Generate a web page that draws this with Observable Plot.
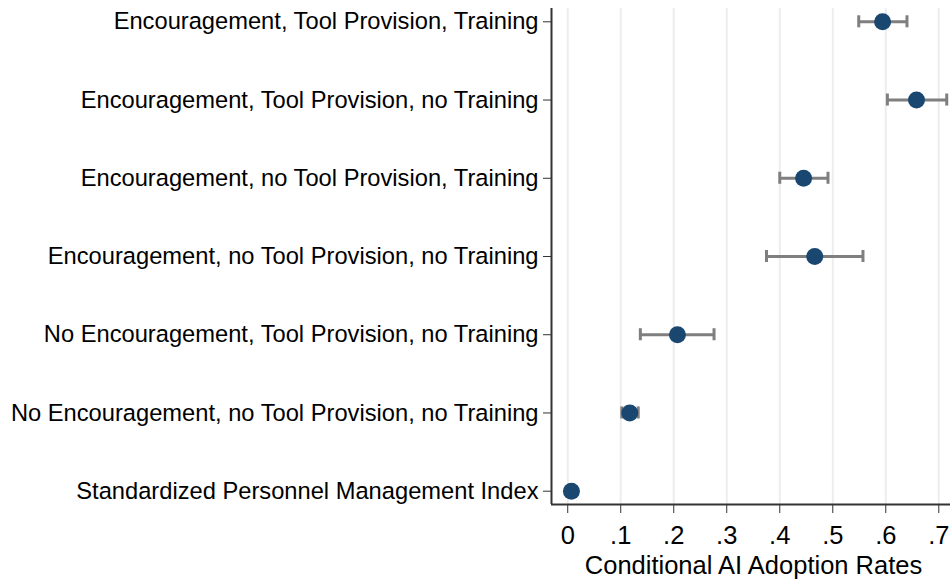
<!DOCTYPE html>
<html><head><meta charset="utf-8">
<script src="https://cdn.jsdelivr.net/npm/d3@7"></script>
<script src="https://cdn.jsdelivr.net/npm/@observablehq/plot@0.6"></script>
<style>body{margin:0;background:#fff}</style>
</head><body><div id="chart"></div>
<script>
const categories = [
  "Encouragement, Tool Provision, Training",
  "Encouragement, Tool Provision, no Training",
  "Encouragement, no Tool Provision, Training",
  "Encouragement, no Tool Provision, no Training",
  "No Encouragement, Tool Provision, no Training",
  "No Encouragement, no Tool Provision, no Training",
  "Standardized Personnel Management Index"
];
const estimates = [0.594, 0.658, 0.445, 0.466, 0.207, 0.117, 0.007];
const lower     = [0.549, 0.603, 0.400, 0.375, 0.137, 0.102, 0.004];
const upper     = [0.640, 0.715, 0.491, 0.557, 0.276, 0.133, 0.010];
const xTicks = [0, 0.1, 0.2, 0.3, 0.4, 0.5, 0.6, 0.7];
const xTickLabels = ["0", ".1", ".2", ".3", ".4", ".5", ".6", ".7"];
const xTitle = "Conditional AI Adoption Rates";

const data = categories.map((c, i) => ({i, c, est: estimates[i], lo: lower[i], hi: upper[i]}));
const capHalf = 0.077;
const xMin = -0.0306, xMax = 0.7221, yMin = -0.17, yMax = 6.17;

const chart = Plot.plot({
  width: 950, height: 581,
  marginLeft: 551, marginRight: 0, marginTop: 8, marginBottom: 77,
  style: {fontFamily: "'Liberation Sans', Arial, sans-serif", background: "#fff", color: "#000", overflow: "visible"},
  x: {domain: [xMin, xMax]},
  y: {domain: [yMin, yMax], reverse: true},
  marks: [
    Plot.ruleX(xTicks, {stroke: "#ededed", strokeWidth: 2}),
    Plot.ruleY(data, {y: "i", x1: "lo", x2: "hi", stroke: "#7f7f7f", strokeWidth: 3}),
    Plot.ruleX(data, {x: "lo", y1: d => d.i - capHalf, y2: d => d.i + capHalf, stroke: "#7f7f7f", strokeWidth: 3}),
    Plot.ruleX(data, {x: "hi", y1: d => d.i - capHalf, y2: d => d.i + capHalf, stroke: "#7f7f7f", strokeWidth: 3}),
    Plot.dot(data, {x: "est", y: "i", r: 8.5, fill: "#1a476f"}),
    Plot.axisX({ticks: xTicks, tickFormat: d => xTickLabels[xTicks.indexOf(d)], tickSize: 9, tickPadding: 12, fontSize: 25.5, label: null, stroke: "#333", fill: "#000"}),
    Plot.axisY({ticks: d3.range(categories.length), tickFormat: i => categories[i], tickSize: 8, tickPadding: 5, fontSize: 23.7, label: null, stroke: "#333", fill: "#000"}),
    Plot.ruleX([xMin], {stroke: "#333", strokeWidth: 2}),
    Plot.ruleY([yMax], {stroke: "#333", strokeWidth: 2}),
    Plot.text([xTitle], {text: d => d, frameAnchor: "bottom", dy: 61, dx: 2.5, fontSize: 25.5, lineAnchor: "middle", fill: "#000"})
  ]
});
document.getElementById("chart").appendChild(chart);
</script>
</body></html>
